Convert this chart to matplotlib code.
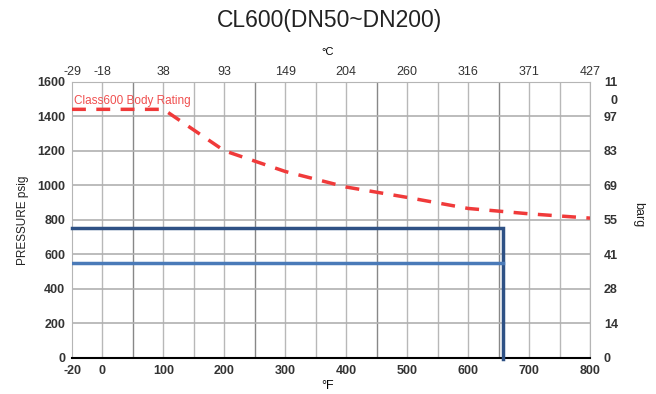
import matplotlib.pyplot as plt

# Class600 body rating curve, deg F vs psig (chart starts at -50 position labelled -20)
ratingTempF = [-50, 100, 200, 300, 400, 500, 600, 700, 800]
ratingPsig = [1440, 1440, 1200, 1080, 990, 930, 866, 835, 810]

# valve limits
upperLimitPsig = 750
lowerLimitPsig = 550
limitTempF = 658

bottomTicks = [-50, 0, 100, 200, 300, 400, 500, 600, 700, 800]
bottomLabels = ['-20', '0', '100', '200', '300', '400', '500', '600', '700', '800']
topLabels = ['-29', '-18', '38', '93', '149', '204', '260', '316', '371', '427']
psigTicks = [0, 200, 400, 600, 800, 1000, 1200, 1400, 1600]
bargLabels = ['0', '14', '28', '41', '55', '69', '83', '97', '11']

plt.rcParams['font.family'] = ['Liberation Sans', 'DejaVu Sans']

fig = plt.figure(figsize=(6.56, 3.94), dpi=100)
ax = fig.add_axes([72 / 656, 1 - 358 / 394, 518 / 656, 276.3 / 394])

ax.set_xlim(-50, 800)
ax.set_ylim(0, 1600)

# grid
for x in range(0, 801, 50):
    dark = x in (50, 250, 450, 650)
    ax.axvline(x, color='#888888' if dark else '#b8b8b8', lw=1.0, zorder=1)
for y in psigTicks[1:]:
    ax.axhline(y, color='#b0b0b0', lw=1.2, zorder=1)

ax.plot(ratingTempF, ratingPsig, color='#f03a3a', lw=2.5, dashes=(4, 3), zorder=3)
ax.text(-46, 1455, 'Class600 Body Rating', color='#f05050', fontsize=8.5,
        va='bottom', ha='left', zorder=4)

ax.plot([-50, limitTempF, limitTempF], [upperLimitPsig, upperLimitPsig, -8],
        color='#2e5185', lw=2.5, zorder=4, clip_on=False, solid_joinstyle='miter')
ax.plot([-50, limitTempF], [lowerLimitPsig, lowerLimitPsig],
        color='#4a7ab8', lw=2.5, zorder=4)

for side in ['top', 'right', 'left']:
    ax.spines[side].set_color('#b5b5b5')
ax.spines['bottom'].set_color('black')
ax.spines['bottom'].set_linewidth(1.5)

ax.set_xticks(bottomTicks)
ax.set_xticklabels(bottomLabels)
ax.set_yticks(psigTicks)
ax.tick_params(length=0, labelsize=9, pad=5)
for lab in ax.get_xticklabels() + ax.get_yticklabels():
    lab.set_fontweight('bold')
    lab.set_color('#333333')
ax.set_ylabel('PRESSURE psig', fontsize=8.5, labelpad=6, color='#222222')

top = ax.twiny()
top.set_xlim(ax.get_xlim())
top.set_xticks(bottomTicks)
top.set_xticklabels(topLabels)
top.tick_params(length=0, labelsize=9, pad=3)
for lab in top.get_xticklabels():
    lab.set_color('#333333')
for side in top.spines:
    top.spines[side].set_visible(False)

right = ax.twinx()
right.set_ylim(ax.get_ylim())
right.set_yticks(psigTicks)
right.set_yticklabels(bargLabels)
right.tick_params(length=0, labelsize=9, pad=10)
for lab in right.get_yticklabels():
    lab.set_fontweight('bold')
    lab.set_color('#333333')
for side in right.spines:
    right.spines[side].set_visible(False)
right.text(1.04, 1490 / 1600, '0', transform=right.transAxes, fontsize=9,
           fontweight='bold', color='#333333', va='center', ha='left')
right.set_ylabel('barg', fontsize=9, rotation=270, labelpad=12, color='#222222')
right.yaxis.set_label_coords(1.105, 0.52)

fig.text(330 / 656, 1 - 21 / 394, 'CL600(DN50~DN200)', fontsize=16.5,
         ha='center', va='center', color='#222222')
fig.text(328 / 656, 1 - 52 / 394, '°C', fontsize=8, ha='center', va='center')
fig.text(328 / 656, 1 - 386 / 394, '°F', fontsize=9, ha='center', va='center')

fig.savefig('out.png', dpi=100)
